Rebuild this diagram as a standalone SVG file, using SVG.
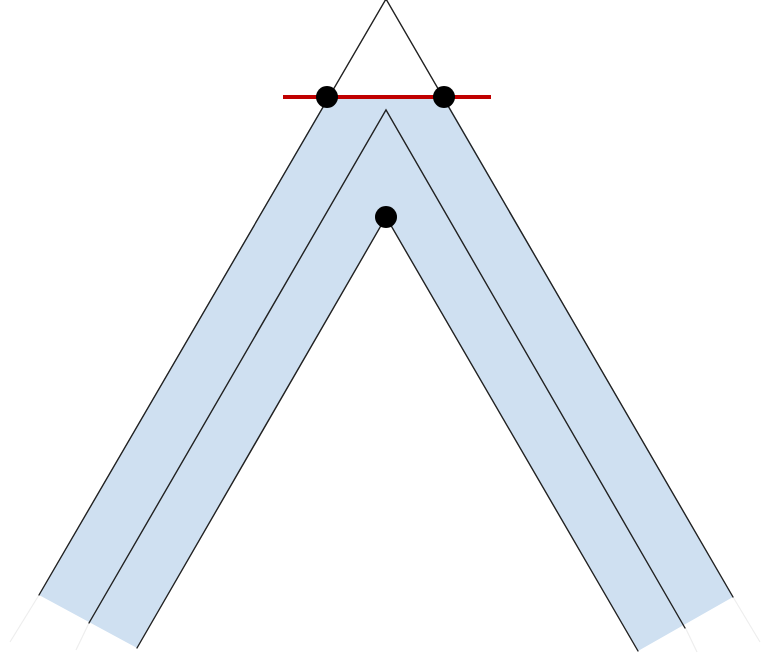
<svg xmlns="http://www.w3.org/2000/svg" width="763" height="658" viewBox="0 0 763 658">
<style>
.ln{stroke:#222;stroke-width:1.4;fill:none;stroke-linecap:round}
.faint{stroke:#eee;stroke-width:1.2;fill:none}
.dot{fill:#000}
</style>
<rect width="763" height="658" fill="#fff"/>
<g id="band">
<polygon points="328,97 444,97 733,597 638,651 386,217 137,648 39,595" fill="#cfe0f1"/>
</g>
<g id="faint">
<line class="faint" x1="39" y1="595" x2="10" y2="642"/>
<line class="faint" x1="89" y1="623" x2="76" y2="650"/>
<line class="faint" x1="733" y1="597" x2="760" y2="642"/>
<line class="faint" x1="685" y1="627" x2="697" y2="652"/>
</g>
<g id="lines">
<polyline class="ln" points="39,595 386,-1 733,597"/>
<polyline class="ln" points="89,623 386,110 685,628"/>
<polyline class="ln" points="137,648 386,217 638,651"/>
</g>
<g id="redline">
<line x1="283" y1="97" x2="491" y2="97" stroke="#c00000" stroke-width="4"/>
</g>
<g id="dots">
<circle class="dot" cx="327" cy="97" r="11"/>
<circle class="dot" cx="444" cy="97" r="11"/>
<circle class="dot" cx="386" cy="217" r="11"/>
</g>
</svg>
